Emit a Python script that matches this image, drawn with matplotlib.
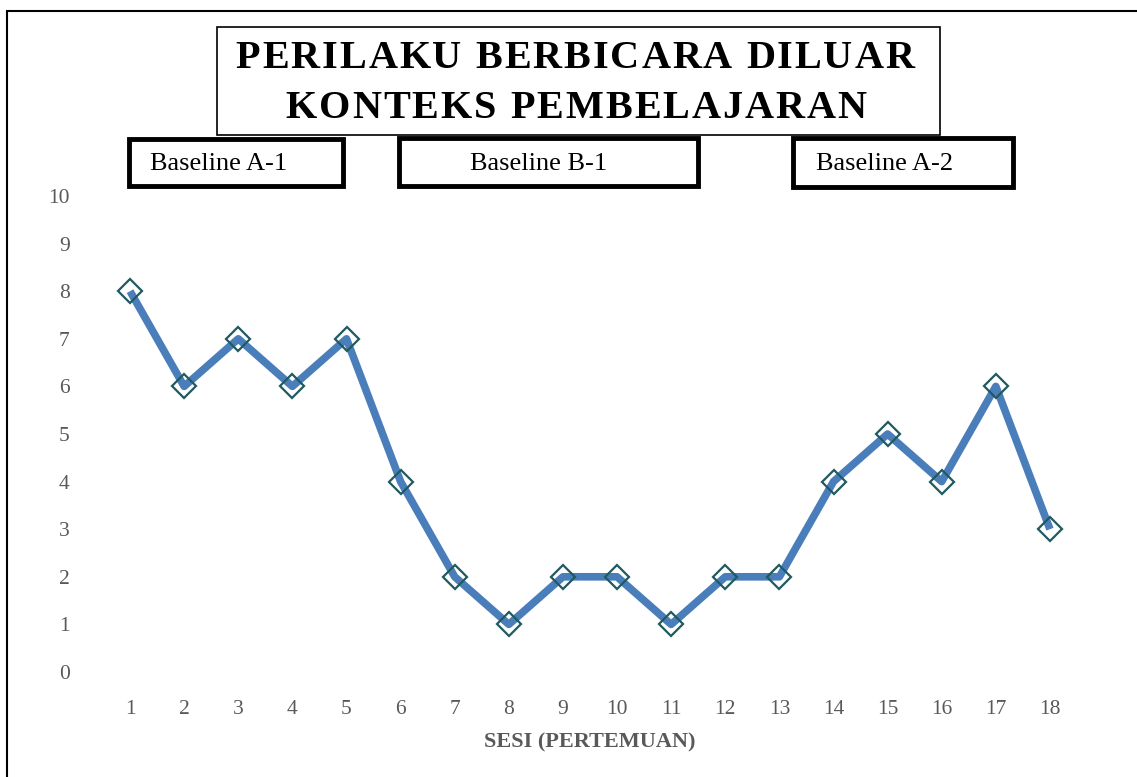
import matplotlib
matplotlib.use("Agg")
import matplotlib.pyplot as plt
from matplotlib.patches import Rectangle
from matplotlib.textpath import TextPath
from matplotlib.font_manager import FontProperties

sessions = list(range(1, 19))
values = [8, 6, 7, 6, 7, 4, 2, 1, 2, 2, 1, 2, 2, 4, 5, 4, 6, 3]
title_lines = ["PERILAKU BERBICARA DILUAR", "KONTEKS PEMBELAJARAN"]
phase_labels = ["Baseline A-1", "Baseline B-1", "Baseline A-2"]
xlabel = "SESI (PERTEMUAN)"

W, H = 1137, 777
fig = plt.figure(figsize=(W / 100, H / 100), dpi=100)
plt.rcParams['font.family'] = ['Liberation Serif', 'DejaVu Serif']

def fx(px):
    return px / W

def fy(py):
    return 1 - py / H

# outer border
fig.patches.append(Rectangle((fx(7), fy(790)), fx(1150) - fx(7), fy(11) - fy(790),
                             transform=fig.transFigure, fill=False, edgecolor='black', linewidth=1.5))

ax = fig.add_axes([fx(103), fy(672), fx(1077) - fx(103), fy(196) - fy(672)])
ax.plot(range(len(sessions)), values, color='#4a7ebb', linewidth=5.5, solid_capstyle='butt',
        marker='D', markersize=12.5, markerfacecolor='none', markeredgecolor='#1f5a60',
        markeredgewidth=1.6, zorder=3)
ax.set_xlim(-0.5, len(sessions) - 0.5)
ax.set_ylim(0, 10)
ax.set_yticks(range(0, 11))
ax.set_xticks(range(len(sessions)))
ax.set_xticklabels([str(s) for s in sessions])
for s in ax.spines.values():
    s.set_visible(False)
ax.tick_params(axis='both', length=0, labelsize=15.5, labelcolor='#595959')
ax.tick_params(axis='y', pad=24)
ax.tick_params(axis='x', pad=20)
ax.set_xlabel(xlabel, fontsize=16, fontweight='bold', color='#595959', labelpad=10)

# title box
fig.patches.append(Rectangle((fx(217), fy(135)), fx(940) - fx(217), fy(27) - fy(135),
                             transform=fig.transFigure, fill=True, facecolor='white',
                             edgecolor='black', linewidth=1.2, zorder=5))

title_fs = 29
fp = FontProperties(family='Liberation Serif', weight='bold', size=title_fs)
tracking_px = 1.9

def spaced_text(line, cx, cy):
    adv = []
    iw = TextPath((0, 0), 'I', prop=fp).get_extents().x1
    for c in line:
        full = TextPath((0, 0), c + 'I', prop=fp).get_extents().x1
        adv.append((full - iw) * 100 / 72 + tracking_px)
    total = sum(adv) - tracking_px
    x = cx - total / 2
    for c, a in zip(line, adv):
        if c != ' ':
            fig.text(fx(x), fy(cy), c, ha='left', va='center', fontsize=title_fs,
                     fontweight='bold', zorder=6)
        x += a

spaced_text(title_lines[0], 575, 58)
spaced_text(title_lines[1], 576, 108)

# phase boxes
boxes = [(129, 343, 139, 186, 150), (399, 698, 138, 186, 470), (793, 1013, 138, 187, 816)]
for (x0, x1, y0, y1, tx), lab in zip(boxes, phase_labels):
    fig.patches.append(Rectangle((fx(x0), fy(y1)), fx(x1) - fx(x0), fy(y0) - fy(y1),
                                 transform=fig.transFigure, fill=True, facecolor='white',
                                 edgecolor='black', linewidth=3.5, zorder=5))
    fig.text(fx(tx), fy((y0 + y1) / 2 + 2), lab, ha='left', va='center', fontsize=19, zorder=6)

fig.savefig("out.png", dpi=100)
